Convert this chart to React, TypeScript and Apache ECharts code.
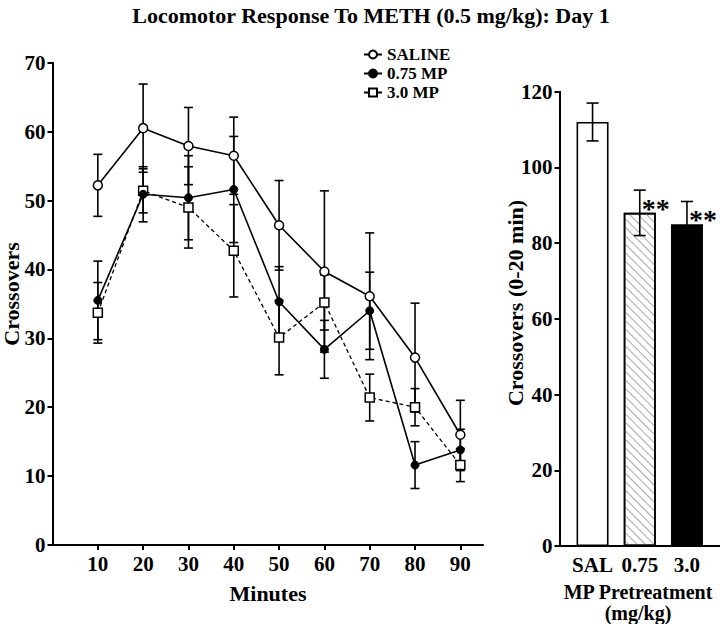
import React, { useEffect, useRef } from 'react';
import * as echarts from 'echarts';

// ---- data ----
const minutes = [10, 20, 30, 40, 50, 60, 70, 80, 90];
const salineMean = [52.2, 60.5, 57.9, 56.5, 46.4, 39.7, 36.1, 27.2, 16.0];
const salineSem = [4.5, 6.4, 5.6, 5.6, 6.5, 11.7, 9.2, 7.9, 5.0];
const mp075Mean = [35.5, 50.9, 50.4, 51.6, 35.3, 28.4, 34.0, 11.6, 13.8];
const mp075Sem = [5.7, 4.0, 6.1, 7.7, 5.1, 4.2, 5.6, 3.4, 3.0];
const mp30Mean = [33.7, 51.4, 49.0, 42.7, 30.1, 35.2, 21.4, 20.0, 11.6];
const mp30Sem = [4.4, 3.2, 5.9, 6.7, 5.4, 4.0, 3.4, 2.7, 2.4];

const barCategories = ['SAL', '0.75', '3.0'];
const barPositions = [1, 2, 3];
const barMeans = [112, 88, 85];
const barSem = [5, 6, 6];
const barSignificance = ['', '**', '**'];

const FONT = '"Liberation Serif", "Times New Roman", serif';

function errorBars(axisIndex: number, xs: number[], ys: number[], sems: number[], halfCap: number, z: number, sig?: string[]) {
  return {
    type: 'custom',
    xAxisIndex: axisIndex,
    yAxisIndex: axisIndex,
    z,
    silent: true,
    data: xs.map((x, i) => [x, ys[i] - sems[i], ys[i] + sems[i], i]),
    encode: { x: 0, y: [1, 2] },
    renderItem: (params: any, api: any) => {
      const x = api.value(0);
      const lo = api.coord([x, api.value(1)]);
      const hi = api.coord([x, api.value(2)]);
      const style = { stroke: '#000', lineWidth: 1.6, fill: 'none' };
      const children: any[] = [
        { type: 'line', shape: { x1: lo[0], y1: lo[1], x2: hi[0], y2: hi[1] }, style },
        { type: 'line', shape: { x1: hi[0] - halfCap, y1: hi[1], x2: hi[0] + halfCap, y2: hi[1] }, style },
        { type: 'line', shape: { x1: lo[0] - halfCap, y1: lo[1], x2: lo[0] + halfCap, y2: lo[1] }, style },
      ];
      const idx = api.value(3);
      if (sig && sig[idx]) {
        children.push({
          type: 'text',
          x: hi[0] + 2,
          y: hi[1] + 4,
          style: { text: sig[idx], fontFamily: FONT, fontWeight: 'bold', fontSize: 28, fill: '#000', textAlign: 'left', textVerticalAlign: 'top' },
        });
      }
      return { type: 'group', children };
    },
  };
}

const axisText = { fontFamily: FONT, fontWeight: 'bold' as const, fontSize: 21, color: '#000' };
const axisLineStyle = { lineStyle: { color: '#000', width: 2 } };

export default function App() {
  const ref = useRef<HTMLDivElement>(null);
  useEffect(() => {
    if (!ref.current) return;
    const chart = echarts.init(ref.current, undefined, { renderer: 'svg' });
    const barData = barPositions.map((p, i) => {
      let itemStyle: any = { color: '#fff', borderColor: '#000', borderWidth: 1.6 };
      if (i === 1) {
        itemStyle = {
          color: '#fff', borderColor: '#000', borderWidth: 1.6,
          decal: { symbol: 'rect', symbolSize: 1, color: '#a8a8a8', backgroundColor: '#fff', dashArrayX: [1, 0], dashArrayY: [1, 5], rotation: Math.PI / 4 },
        };
      } else if (i === 2) {
        itemStyle = { color: '#000', borderColor: '#000', borderWidth: 1.6 };
      }
      return { value: [p, barMeans[i]], itemStyle };
    });
    chart.setOption({
      animation: false,
      backgroundColor: '#fff',
      grid: [
        { left: 52.5, top: 62.7, width: 430.5, height: 482.3 },
        { left: 559.5, top: 91.7, width: 161, height: 454.3 },
      ],
      xAxis: [
        {
          type: 'value', gridIndex: 0, min: 0, max: 95,
          axisLine: axisLineStyle,
          axisTick: { show: true, customValues: minutes, length: 5, lineStyle: { color: '#000', width: 2 } },
          axisLabel: { ...axisText, customValues: minutes, margin: 8 },
          splitLine: { show: false },
        },
        {
          type: 'value', gridIndex: 1, min: 0.3, max: 3.7,
          axisLine: axisLineStyle,
          axisTick: { show: false },
          axisLabel: { ...axisText, customValues: barPositions, margin: 8, formatter: (v: number) => barCategories[barPositions.indexOf(v)] ?? '' },
          splitLine: { show: false },
        },
      ],
      yAxis: [
        {
          type: 'value', gridIndex: 0, min: 0, max: 70, interval: 10,
          axisLine: { show: true, ...axisLineStyle },
          axisTick: { show: true, length: 5, lineStyle: { color: '#000', width: 2 } },
          axisLabel: { ...axisText, margin: 7 },
          splitLine: { show: false },
        },
        {
          type: 'value', gridIndex: 1, min: 0, max: 120, interval: 20,
          axisLine: { show: true, ...axisLineStyle },
          axisTick: { show: true, length: 5, lineStyle: { color: '#000', width: 2 } },
          axisLabel: { ...axisText, margin: 7 },
          splitLine: { show: false },
        },
      ],
      legend: {
        orient: 'vertical', left: 363, top: 46, padding: 0, itemGap: 2,
        itemWidth: 18, itemHeight: 10,
        data: ['SALINE', '0.75 MP', '3.0 MP'],
        textStyle: { fontFamily: FONT, fontWeight: 'bold', fontSize: 17, color: '#000' },
      },
      graphic: [
        { type: 'text', x: 371, y: 15, style: { text: 'Locomotor Response To METH (0.5 mg/kg): Day 1', fontFamily: FONT, fontWeight: 'bold', fontSize: 22, fill: '#000', textAlign: 'center', textVerticalAlign: 'middle' } },
        { type: 'text', x: 11, y: 294, rotation: Math.PI / 2, style: { text: 'Crossovers', fontFamily: FONT, fontWeight: 'bold', fontSize: 22, fill: '#000', textAlign: 'center', textVerticalAlign: 'middle' } },
        { type: 'text', x: 515, y: 303, rotation: Math.PI / 2, style: { text: 'Crossovers (0-20 min)', fontFamily: FONT, fontWeight: 'bold', fontSize: 22, fill: '#000', textAlign: 'center', textVerticalAlign: 'middle' } },
        { type: 'text', x: 268, y: 593, style: { text: 'Minutes', fontFamily: FONT, fontWeight: 'bold', fontSize: 22, fill: '#000', textAlign: 'center', textVerticalAlign: 'middle' } },
        { type: 'text', x: 638, y: 592, style: { text: 'MP Pretreatment', fontFamily: FONT, fontWeight: 'bold', fontSize: 20, fill: '#000', textAlign: 'center', textVerticalAlign: 'middle' } },
        { type: 'text', x: 638, y: 613, style: { text: '(mg/kg)', fontFamily: FONT, fontWeight: 'bold', fontSize: 20, fill: '#000', textAlign: 'center', textVerticalAlign: 'middle' } },
      ],
      series: [
        errorBars(0, minutes, salineMean, salineSem, 4.5, 2),
        errorBars(0, minutes, mp075Mean, mp075Sem, 4.5, 2),
        errorBars(0, minutes, mp30Mean, mp30Sem, 4.5, 2),
        {
          name: 'SALINE', type: 'line', xAxisIndex: 0, yAxisIndex: 0, z: 4,
          data: minutes.map((m, i) => [m, salineMean[i]]),
          symbol: 'circle', symbolSize: 9,
          lineStyle: { color: '#000', width: 1.6 },
          itemStyle: { color: '#fff', borderColor: '#000', borderWidth: 1.5 },
        },
        {
          name: '0.75 MP', type: 'line', xAxisIndex: 0, yAxisIndex: 0, z: 4,
          data: minutes.map((m, i) => [m, mp075Mean[i]]),
          symbol: 'circle', symbolSize: 8,
          lineStyle: { color: '#000', width: 1.6 },
          itemStyle: { color: '#000', borderColor: '#000', borderWidth: 1 },
        },
        {
          name: '3.0 MP', type: 'line', xAxisIndex: 0, yAxisIndex: 0, z: 3,
          data: minutes.map((m, i) => [m, mp30Mean[i]]),
          symbol: 'rect', symbolSize: 9,
          lineStyle: { color: '#000', width: 1.3, type: [4, 3] },
          itemStyle: { color: '#fff', borderColor: '#000', borderWidth: 1.5 },
        },
        {
          type: 'bar', xAxisIndex: 1, yAxisIndex: 1, z: 2, barWidth: 32,
          data: barData,
        },
        errorBars(1, barPositions, barMeans, barSem, 6, 5, barSignificance),
      ],
    });
    return () => chart.dispose();
  }, []);
  return <div ref={ref} style={{ position: 'fixed', left: 0, top: 0, width: 720, height: 624 }} />;
}
